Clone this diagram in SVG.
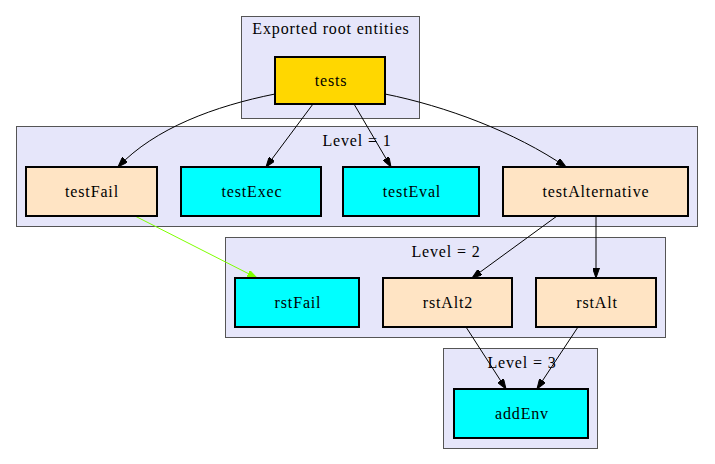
<svg xmlns="http://www.w3.org/2000/svg" width="715" height="464" viewBox="0 0 715 464">
<defs>
<style>
.cl{fill:#e6e6fa;stroke:#555555;stroke-width:1}
.nd{stroke:#000;stroke-width:2}
.t{font-family:"Liberation Serif",serif;font-size:16px;letter-spacing:0.85px;fill:#000;text-anchor:middle}
.e{fill:none;stroke:#000;stroke-width:1}
.g{fill:none;stroke:#7fff00;stroke-width:1}
</style>
<marker id="a" viewBox="0 0 10 7" refX="10" refY="3.5" markerWidth="10" markerHeight="7" markerUnits="userSpaceOnUse" orient="auto"><path d="M0,0 L10,3.5 L0,7 z" fill="#000" stroke="#000" stroke-width="1"/></marker>
<marker id="ag" viewBox="0 0 10 7" refX="10" refY="3.5" markerWidth="10" markerHeight="7" markerUnits="userSpaceOnUse" orient="auto"><path d="M0,0 L10,3.5 L0,7 z" fill="#7fff00" stroke="#7fff00" stroke-width="1"/></marker>
</defs>
<rect width="715" height="464" fill="#fff"/>
<g id="clusters">
<rect class="cl" x="241.5" y="16.5" width="178" height="102"/>
<text class="t" x="331" y="34">Exported root entities</text>
<rect class="cl" x="16.5" y="126.5" width="681" height="100"/>
<text class="t" x="357" y="146">Level = 1</text>
<rect class="cl" x="225.5" y="237.5" width="440" height="100"/>
<text class="t" x="446" y="257">Level = 2</text>
<rect class="cl" x="443.5" y="348.5" width="154" height="100"/>
<text class="t" x="522" y="368">Level = 3</text>
</g>
<g id="edges">
<path class="e" marker-end="url(#a)" d="M275,94 C215,106 155,128 118,167"/>
<path class="e" marker-end="url(#a)" d="M313,104 L266,167"/>
<path class="e" marker-end="url(#a)" d="M354,104 L391,167"/>
<path class="e" marker-end="url(#a)" d="M385,94 C445,106 515,132 566,167"/>
<path class="g" marker-end="url(#ag)" d="M135,216 L257,278"/>
<path class="e" marker-end="url(#a)" d="M557,216 L472,278"/>
<path class="e" marker-end="url(#a)" d="M596,216 L596,278"/>
<path class="e" marker-end="url(#a)" d="M466,327 L506,389"/>
<path class="e" marker-end="url(#a)" d="M578,327 L537,389"/>
</g>
<g id="tests"><rect class="nd" x="275" y="57" width="110" height="47" fill="#ffd700"/><text class="t" x="331" y="86">tests</text></g>
<g id="testFail"><rect class="nd" x="26" y="167" width="131" height="49" fill="#ffe4c4"/><text class="t" x="92" y="197">testFail</text></g>
<g id="testExec"><rect class="nd" x="181" y="167" width="140" height="49" fill="#00ffff"/><text class="t" x="252" y="197">testExec</text></g>
<g id="testEval"><rect class="nd" x="343" y="167" width="136" height="49" fill="#00ffff"/><text class="t" x="412" y="197">testEval</text></g>
<g id="testAlternative"><rect class="nd" x="503" y="167" width="185" height="49" fill="#ffe4c4"/><text class="t" x="596" y="197">testAlternative</text></g>
<g id="rstFail"><rect class="nd" x="235" y="278" width="124" height="49" fill="#00ffff"/><text class="t" x="298" y="308">rstFail</text></g>
<g id="rstAlt2"><rect class="nd" x="383" y="278" width="129" height="49" fill="#ffe4c4"/><text class="t" x="448" y="308">rstAlt2</text></g>
<g id="rstAlt"><rect class="nd" x="536" y="278" width="120" height="49" fill="#ffe4c4"/><text class="t" x="597" y="308">rstAlt</text></g>
<g id="addEnv"><rect class="nd" x="454" y="389" width="134" height="49" fill="#00ffff"/><text class="t" x="522" y="419">addEnv</text></g>
</svg>
